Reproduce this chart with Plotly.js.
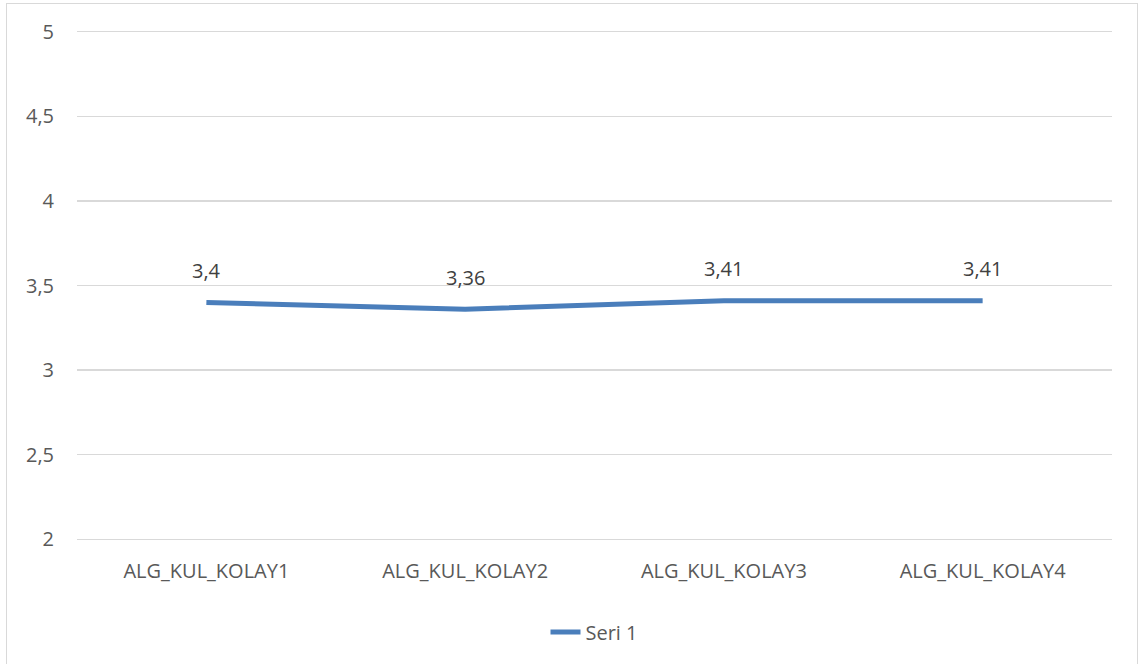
<!DOCTYPE html>
<html>
<head>
<meta charset="utf-8">
<script src="https://cdn.plot.ly/plotly-3.0.1.min.js"></script>
<style>
html,body{margin:0;padding:0;background:#fff;}
#chart{width:1141px;height:664px;position:relative;}
#frame{position:absolute;left:6px;top:3px;width:1132px;height:670px;border:1px solid #d9d9d9;pointer-events:none;box-sizing:border-box;}
</style>
</head>
<body>
<div style="position:relative;width:1141px;height:664px;overflow:hidden;">
<div id="chart"></div>
<div id="frame"></div>
</div>
<script>
const categories = ["ALG_KUL_KOLAY1", "ALG_KUL_KOLAY2", "ALG_KUL_KOLAY3", "ALG_KUL_KOLAY4"];
const seriesName = "Seri 1";
const values = [3.4, 3.36, 3.41, 3.41];
const yTicks = [2, 2.5, 3, 3.5, 4, 4.5, 5];
const yTickLabels = ["2", "2,5", "3", "3,5", "4", "4,5", "5"];

const font = "Open Sans, Liberation Sans, sans-serif";
const trace = {
  x: categories,
  y: values,
  type: "scatter",
  mode: "lines",
  name: seriesName,
  line: {color: "#4a7ebb", width: 5},
  hoverinfo: "skip"
};
const annotations = categories.map((c, i) => ({
  x: c, y: values[i], xref: "x", yref: "y",
  text: String(values[i]).replace(".", ","),
  showarrow: false, yshift: 32,
  font: {family: font, size: 20, color: "#404040"}
}));
const layout = {
  width: 1141, height: 664,
  margin: {l: 77, r: 29, t: 30, b: 120},
  paper_bgcolor: "#ffffff", plot_bgcolor: "#ffffff",
  separators: ", ",
  showlegend: true,
  legend: {orientation: "h", x: 0.5, xanchor: "center", y: -0.14, yanchor: "top",
    font: {family: font, size: 20, color: "#595959"}, itemwidth: 30},
  xaxis: {
    type: "category", showgrid: false, zeroline: false, showline: false,
    ticks: "", tickfont: {family: font, size: 20, color: "#595959"},
    ticklabelstandoff: 16, range: [-0.5, 3.5]
  },
  yaxis: {
    range: [1.99, 5.01], tickvals: yTicks, ticktext: yTickLabels,
    showgrid: true, gridcolor: "#d9d9d9", gridwidth: 1.5, zeroline: false, showline: false,
    ticks: "", tickfont: {family: font, size: 20, color: "#595959"},
    ticklabelstandoff: 22
  },
  annotations: annotations
};
Plotly.newPlot("chart", [trace], layout, {displayModeBar: false, staticPlot: true});
</script>
</body>
</html>
